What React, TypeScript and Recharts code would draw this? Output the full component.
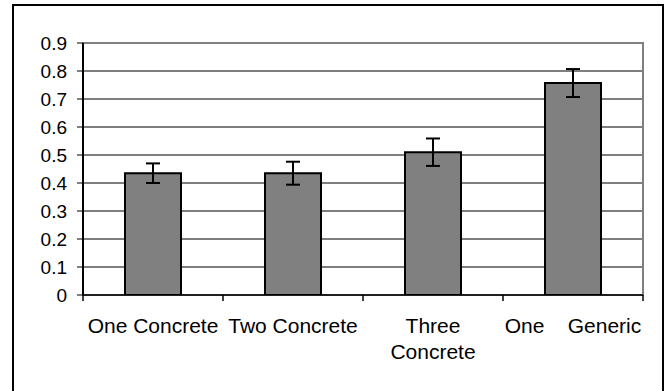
import React from "react";
import {
  BarChart,
  Bar,
  XAxis,
  YAxis,
  CartesianGrid,
  ErrorBar,
  ReferenceArea,
} from "recharts";

const categories = ["One Concrete", "Two Concrete", "Three\nConcrete", "One    Generic"];
const means = [0.435, 0.435, 0.51, 0.757];
const errors = [0.035, 0.041, 0.049, 0.05];
const yTicks = [0, 0.1, 0.2, 0.3, 0.4, 0.5, 0.6, 0.7, 0.8, 0.9];

const data = categories.map((name, i) => ({ name, value: means[i], err: errors[i] }));

const FONT = "'Liberation Sans', Arial, sans-serif";

const CatTick = (props: any) => {
  const { x, y, payload, index, visibleTicksCount } = props;
  const half = payload && typeof payload.offset === "number" ? payload.offset : 70;
  const lines = String(payload.value).split("\n");
  const last = index === (visibleTicksCount ?? categories.length) - 1;
  return (
    <g>
      <line x1={x - half} y1={y} x2={x - half} y2={y + 6} stroke="#000" strokeWidth={1.5} />
      {last && (
        <line x1={x + half} y1={y} x2={x + half} y2={y + 6} stroke="#000" strokeWidth={1.5} />
      )}
      {lines.map((line: string, i: number) => (
        <text
          key={i}
          x={x}
          y={y + 38 + i * 26}
          textAnchor="middle"
          fontFamily={FONT}
          fontSize={21}
          fill="#000"
          style={{ whiteSpace: "pre" }}
        >
          {line}
        </text>
      ))}
    </g>
  );
};

const YTick = (props: any) => {
  const { x, y, payload } = props;
  return (
    <text
      x={x}
      y={y}
      dy="0.355em"
      textAnchor="end"
      fontFamily={FONT}
      fontSize={19}
      fill="#000"
    >
      {String(Number(Number(payload.value).toFixed(1)))}
    </text>
  );
};

export default function App() {
  return (
    <div
      style={{
        position: "absolute",
        left: 0,
        top: 0,
        width: 665,
        height: 391,
        overflow: "hidden",
        background: "#fff",
      }}
    >
      <div
        style={{
          position: "absolute",
          left: 12,
          top: 4,
          width: 652,
          height: 400,
          border: "2px solid #000",
          boxSizing: "border-box",
        }}
      />
      <div style={{ position: "absolute", left: 0, top: 0 }}>
        <BarChart
          width={665}
          height={391}
          data={data}
          margin={{ top: 43, right: 22, bottom: 95, left: 0 }}
          barCategoryGap="30%"
        >
          <CartesianGrid vertical={false} stroke="#000" strokeWidth={1} />
          <ReferenceArea
            x1={categories[0]}
            x2={categories[categories.length - 1]}
            y1={0}
            y2={0.9}
            fill="none"
            fillOpacity={0}
            stroke="#808080"
            strokeWidth={2}
            strokeOpacity={1}
          />
          <XAxis
            dataKey="name"
            height={1}
            axisLine={{ stroke: "#000", strokeWidth: 1.5 }}
            tickLine={false}
            tickSize={0}
            tickMargin={0}
            interval={0}
            tick={<CatTick />}
          />
          <YAxis
            width={83}
            domain={[0, 0.9]}
            ticks={yTicks}
            allowDataOverflow
            axisLine={{ stroke: "#000", strokeWidth: 2 }}
            tickLine={{ stroke: "#000", strokeWidth: 1 }}
            tickSize={6}
            tickMargin={10}
            tick={<YTick />}
          />
          <Bar
            dataKey="value"
            fill="#808080"
            stroke="#000"
            strokeWidth={2}
            isAnimationActive={false}
          >
            <ErrorBar dataKey="err" width={7} stroke="#000" strokeWidth={2} />
          </Bar>
        </BarChart>
      </div>
    </div>
  );
}
